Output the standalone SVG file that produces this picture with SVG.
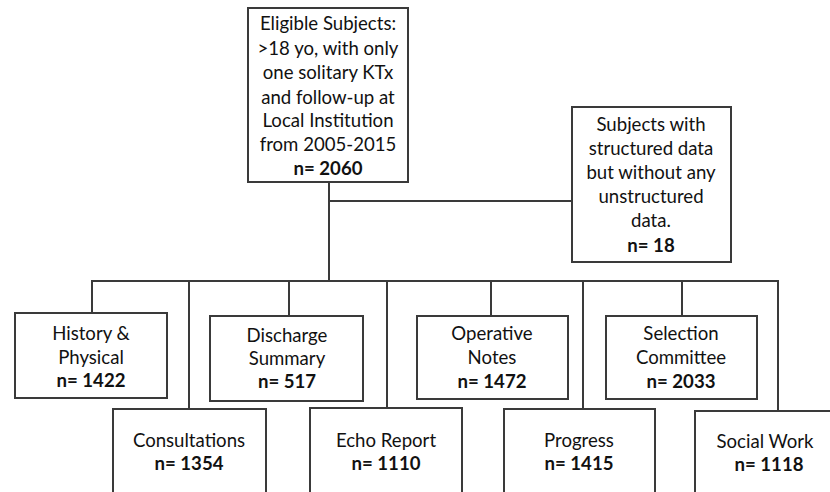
<svg xmlns="http://www.w3.org/2000/svg" width="830" height="492" viewBox="0 0 830 492">
<style>
.box{fill:#fff;stroke:#3a3a3a;stroke-width:2}
.ln{fill:none;stroke:#3a3a3a;stroke-width:2}
text{font-family:Lato,"Liberation Sans",sans-serif;font-size:18.6px;fill:#111;text-anchor:middle;dominant-baseline:central}
.b{font-weight:bold}
</style>
<rect width="830" height="492" fill="#fff"/>
<g id="connectors">
<path class="ln" d="M329,182 V281"/>
<path class="ln" d="M329,201 H572"/>
<path class="ln" d="M92,313 V281 H778 V411"/>
<path class="ln" d="M189,281 V409"/>
<path class="ln" d="M289,281 V316"/>
<path class="ln" d="M387,281 V408"/>
<path class="ln" d="M491,281 V316"/>
<path class="ln" d="M583,281 V409"/>
<path class="ln" d="M682,281 V316"/>
</g>
<g id="eligible">
<rect class="box" x="248" y="8" width="160" height="174"/>
<text x="328" y="23">Eligible Subjects:</text>
<text x="328" y="48">&gt;18 yo, with only</text>
<text x="328" y="72">one solitary KTx</text>
<text x="328" y="97">and follow-up at</text>
<text x="328" y="120">Local Institution</text>
<text x="328" y="144">from 2005-2015</text>
<text x="328" y="168" class="b">n= 2060</text>
</g>
<g id="excluded">
<rect class="box" x="572" y="107" width="159" height="155"/>
<text x="651" y="124">Subjects with</text>
<text x="651" y="148">structured data</text>
<text x="651" y="172">but without any</text>
<text x="651" y="196">unstructured</text>
<text x="651" y="220">data.</text>
<text x="651" y="245" class="b">n= 18</text>
</g>
<g id="history">
<rect class="box" x="15" y="313" width="152" height="85"/>
<text x="91" y="333">History &amp;</text>
<text x="91" y="357">Physical</text>
<text x="91" y="380" class="b">n= 1422</text>
</g>
<g id="discharge">
<rect class="box" x="210" y="316" width="153" height="85"/>
<text x="287" y="335">Discharge</text>
<text x="287" y="358">Summary</text>
<text x="287" y="381" class="b">n= 517</text>
</g>
<g id="operative">
<rect class="box" x="417" y="316" width="151" height="83"/>
<text x="492" y="333">Operative</text>
<text x="492" y="357">Notes</text>
<text x="492" y="381" class="b">n= 1472</text>
</g>
<g id="selection">
<rect class="box" x="606" y="316" width="151" height="83"/>
<text x="681" y="333">Selection</text>
<text x="681" y="357">Committee</text>
<text x="681" y="381" class="b">n= 2033</text>
</g>
<g id="consultations">
<rect class="box" x="113" y="409" width="153" height="100"/>
<text x="189" y="440">Consultations</text>
<text x="189" y="463" class="b">n= 1354</text>
</g>
<g id="echo">
<rect class="box" x="310" y="408" width="152" height="100"/>
<text x="386" y="440">Echo Report</text>
<text x="386" y="463" class="b">n= 1110</text>
</g>
<g id="progress">
<rect class="box" x="504" y="409" width="151" height="100"/>
<text x="579" y="440">Progress</text>
<text x="579" y="463" class="b">n= 1415</text>
</g>
<g id="socialwork">
<rect class="box" x="695" y="411" width="150" height="100"/>
<text x="765" y="441">Social Work</text>
<text x="769" y="464" class="b">n= 1118</text>
</g>
</svg>
